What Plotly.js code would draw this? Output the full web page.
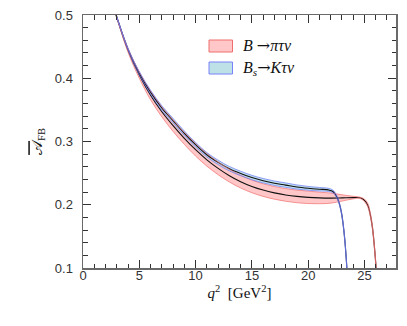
<!DOCTYPE html>
<html>
<head>
<meta charset="utf-8">
<script src="https://cdn.plot.ly/plotly-3.0.1.min.js"></script>
<style>
	html, body { margin: 0; padding: 0; background: #fff; }
	#plot { width: 407px; height: 326px; }
</style>
</head>
<body>
<div id="plot"></div>
<script>
(function(){

	'use strict';

	/*
	Values
	central curve + half width of the uncertainty band
	*/
	const q2B   = [2.8, 3, 4, 5, 6, 7, 8, 9, 10, 11, 12, 13, 14, 15, 16, 17, 18, 19, 20, 21, 22, 23, 24, 24.6, 25, 25.3, 25.5, 25.7, 25.85, 26.0, 26.1, 26.25, 26.4];
	const afbB  = [0.508, 0.496, 0.444, 0.405, 0.373, 0.347, 0.325, 0.305, 0.287, 0.271, 0.2575, 0.246, 0.2365, 0.229, 0.2232, 0.2188, 0.2155, 0.2132, 0.2117, 0.2108, 0.2105, 0.2108, 0.2113, 0.211, 0.207, 0.199, 0.186, 0.165, 0.140, 0.108, 0.080, 0.040, 0.0];
	const errB  = [0, 0, 0.003, 0.005, 0.007, 0.008, 0.009, 0.0095, 0.010, 0.010, 0.010, 0.010, 0.010, 0.010, 0.010, 0.010, 0.010, 0.010, 0.0098, 0.0092, 0.008, 0.005, 0.002, 0.001, 0.002, 0.003, 0.003, 0.003, 0.003, 0.003, 0.003, 0.002, 0];

	const q2Bs  = [2.8, 3, 4, 5, 6, 7, 8, 9, 10, 11, 12, 13, 14, 15, 16, 17, 18, 19, 20, 21, 21.8, 22.2, 22.5, 22.75, 22.95, 23.1, 23.25, 23.4, 23.5, 23.6, 23.74];
	const afbBs = [0.508, 0.497, 0.446, 0.408, 0.378, 0.353, 0.333, 0.313, 0.295, 0.279, 0.267, 0.257, 0.2495, 0.243, 0.238, 0.234, 0.231, 0.228, 0.226, 0.2245, 0.2235, 0.221, 0.214, 0.203, 0.188, 0.170, 0.145, 0.110, 0.080, 0.045, 0];
	const errBs = [0, 0, 0.0015, 0.0025, 0.003, 0.0035, 0.0035, 0.0035, 0.0035, 0.0035, 0.0035, 0.0035, 0.0035, 0.0035, 0.0035, 0.0035, 0.0035, 0.0033, 0.003, 0.0028, 0.0025, 0.0022, 0.002, 0.002, 0.002, 0.002, 0.002, 0.002, 0.002, 0.002, 0];

	const arrow = '<span style="font-family:DejaVu Serif">\u2192</span>';
	const legendNames = [`<i>B</i> ${arrow}<i>\u03C0\u03C4\u03BD</i>`, `<i>B<sub>s</sub></i>${arrow}<i>K\u03C4\u03BD</i>`];

	// colours
	const red = { fill: 'rgba(255,180,180,0.75)', edge: 'rgb(240,110,110)' };
	const blue = { fill: 'rgba(175,215,235,0.8)', edge: 'rgb(105,120,245)' };

	const edge = ( y, e, sign ) => y.map(( v, i ) => v + sign * e[i] );

	/*
	Band fill: lower edge then upper edge filled to it
	*/
	const band = ( x, y, e, col ) => ([
		{ x, y: edge( y, e, -1 ), mode: 'lines', line: { width: 0, shape: 'spline' }, hoverinfo: 'skip', showlegend: false },
		{ x, y: edge( y, e, 1 ), mode: 'lines', fill: 'tonexty', fillcolor: col.fill, line: { width: 0, shape: 'spline' }, hoverinfo: 'skip', showlegend: false },
	]);

	const central = ( x, y ) => ({
		x, y, mode: 'lines', line: { color: '#111', width: 1.1, shape: 'spline' }, showlegend: false,
	});

	const edgeLines = ( x, y, e, col ) => [-1, 1].map( s => ({
		x, y: edge( y, e, s ), mode: 'lines', line: { color: col.edge, width: 0.7, shape: 'spline' }, hoverinfo: 'skip', showlegend: false,
	}));

	const data = [
		...band( q2B, afbB, errB, red ),
		...band( q2Bs, afbBs, errBs, blue ),
		central( q2B, afbB ),
		central( q2Bs, afbBs ),
		...edgeLines( q2B, afbB, errB, red ),
		...edgeLines( q2Bs, afbBs, errBs, blue ),
	];

	/*
	Layout - plot area in px
	*/
	const W = 407, H = 326;
	const margin = { l: 83, r: 11, t: 15, b: 58 };
	const pw = W - margin.l - margin.r;
	const ph = H - margin.t - margin.b;
	const px = x => ( x - margin.l ) / pw;
	const py = y => ( H - margin.b - y ) / ph;

	const axisBase = {
		showgrid: false,
		zeroline: false,
		showline: true,
		linecolor: '#6a6a6a',
		linewidth: 1.5,
		mirror: 'allticks',
		ticks: 'inside',
		ticklen: 8,
		tickwidth: 1.2,
		tickcolor: '#333',
		tickfont: { family: 'Liberation Sans, Arial, sans-serif', size: 13, color: '#333' },
	};

	const minorTicks = dtick => ({ dtick, ticks: 'inside', ticklen: 4.5, tickwidth: 1, tickcolor: '#333', showgrid: false });

	// legend drawn by hand (boxed swatches)
	const swatches = [
		{ top: 40, col: red },
		{ top: 62, col: { fill: 'rgb(190,225,232)', edge: 'rgb(120,130,250)' } },
	];

	const layout = {
		width: W,
		height: H,
		margin,
		paper_bgcolor: '#fff',
		plot_bgcolor: '#fff',
		showlegend: false,
		xaxis: Object.assign({}, axisBase, {
			range: [0, 27.8],
			dtick: 5,
			tick0: 0,
			ticklabelstandoff: -5,
			minor: minorTicks( 1 ),
			title: {
				text: '<i>q</i><sup>2</sup>  [GeV<sup>2</sup>]',
				font: { family: 'Liberation Serif, Times New Roman, serif', size: 15, color: '#111' },
				standoff: 3,
			},
		}),
		yaxis: Object.assign({}, axisBase, {
			range: [0.1, 0.5],
			dtick: 0.1,
			tick0: 0.1,
			tickformat: '.1f',
			ticklabelstandoff: 6,
			minor: minorTicks( 0.02 ),
			title: {
				text: '<span style="text-decoration:overline">\uD835\uDC9C</span><sub>FB</sub>',
				font: { family: 'Liberation Serif, DejaVu Serif, serif', size: 15, color: '#111' },
				standoff: 8,
			},
		}),
		shapes: swatches.map( s => ({
			type: 'rect', xref: 'paper', yref: 'paper',
			x0: px( 209 ), x1: px( 232.5 ), y0: py( s.top + 12 ), y1: py( s.top ),
			fillcolor: s.col.fill, line: { color: s.col.edge, width: 1 },
		})),
		annotations: swatches.map(( s, i ) => ({
			xref: 'paper', yref: 'paper',
			x: px( 241 ), y: py( s.top + 6 ),
			xanchor: 'left', yanchor: 'middle',
			showarrow: false,
			text: legendNames[i],
			font: { family: 'Liberation Serif, Times New Roman, serif', size: 16, color: '#111' },
		})),
	};

	Plotly.newPlot( document.getElementById('plot'), data, layout, { displayModeBar: false, staticPlot: true });

})();
</script>
</body>
</html>
